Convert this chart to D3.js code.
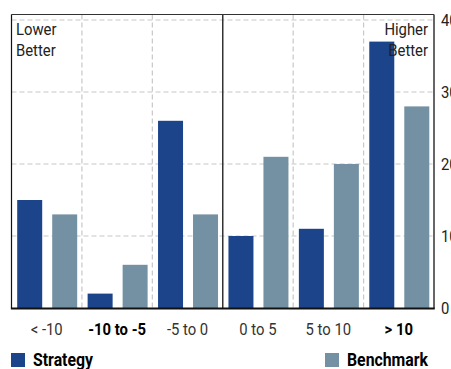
<!DOCTYPE html>
<html><head><meta charset="utf-8">
<script src="https://cdn.jsdelivr.net/npm/d3@7"></script>
<style>body{margin:0;background:#fff}svg{display:block}</style>
</head><body><svg id="c" width="451" height="369"></svg>
<script>
const categories = ["< -10", "-10 to -5", "-5 to 0", "0 to 5", "5 to 10", "> 10"];
const boldCats = ["-10 to -5", "> 10"];
const seriesNames = ["Strategy", "Benchmark"];
const strategy = [15, 2, 26, 10, 11, 37];
const benchmark = [13, 6, 13, 21, 20, 28];
const yTicks = [0, 10, 20, 30, 40];
const colors = ["#1b448b", "#7491a3"];

const font = "Roboto,'Liberation Sans',sans-serif";
const svg = d3.select("#c");
const L = 11.5, R = 434, T = 14.5, B = 308.5;
const x = d3.scaleBand().domain(categories).range([L, R]).padding(0);
const xi = d3.scaleBand().domain(seriesNames).range([5.7, 65.7]).paddingInner(0.2857).paddingOuter(0);
const y = d3.scaleLinear().domain([0, 40]).range([308, 20]);

// condensed text helper
function ctext(parent, tx, ty, str, opts) {
  const o = Object.assign({size: 16.5, sx: 0.9, anchor: "start", weight: "normal", fill: "#222"}, opts || {});
  return parent.append("g").attr("transform", `translate(${tx},${ty}) scale(${o.sx},1)`)
    .append("text").attr("text-anchor", o.anchor).attr("font-family", font).attr("font-size", o.size)
    .attr("font-weight", o.weight).attr("fill", o.fill).text(str);
}

// horizontal gridlines
svg.append("g").selectAll("line").data(yTicks.filter(d => d > 0)).join("line")
  .attr("x1", L).attr("x2", R).attr("y1", d => y(d)).attr("y2", d => y(d))
  .attr("stroke", "#c8c8c8").attr("stroke-width", 1.2).attr("stroke-dasharray", "5,3");
// vertical gridlines
svg.append("g").selectAll("line").data(categories.slice(1)).join("line")
  .attr("x1", d => x(d)).attr("x2", d => x(d)).attr("y1", T).attr("y2", B)
  .attr("stroke", d => d === "0 to 5" ? "#333" : "#c8c8c8")
  .attr("stroke-width", d => d === "0 to 5" ? 1.5 : 1.2)
  .attr("stroke-dasharray", d => d === "0 to 5" ? null : "5,3");

// bars
const data = categories.map((c, i) => ({c, vals: [strategy[i], benchmark[i]]}));
const g = svg.append("g").selectAll("g").data(data).join("g")
  .attr("transform", d => `translate(${x(d.c)},0)`);
g.selectAll("rect").data(d => d.vals.map((v, j) => ({s: seriesNames[j], v, j}))).join("rect")
  .attr("x", d => xi(d.s)).attr("width", xi.bandwidth())
  .attr("y", d => y(d.v)).attr("height", d => y(0) - y(d.v))
  .attr("fill", d => colors[d.j]);

// frame
svg.append("line").attr("x1", L).attr("x2", R).attr("y1", T).attr("y2", T).attr("stroke", "#333").attr("stroke-width", 1.2);
svg.append("line").attr("x1", L).attr("x2", L).attr("y1", T).attr("y2", B).attr("stroke", "#111").attr("stroke-width", 1.2);
svg.append("line").attr("x1", R).attr("x2", R).attr("y1", T).attr("y2", B).attr("stroke", "#333").attr("stroke-width", 1.5);
svg.append("line").attr("x1", L - 0.6).attr("x2", R + 0.75).attr("y1", B).attr("y2", B).attr("stroke", "#111").attr("stroke-width", 1.8);

// right axis
const ay = svg.append("g").attr("transform", `translate(${R},0)`)
  .call(d3.axisRight(y).tickValues(yTicks).tickSize(0).tickPadding(7).tickFormat(d3.format("d")));
ay.select(".domain").remove();
ay.selectAll("text").attr("font-family", font).attr("font-size", 16.5).attr("fill", "#222")
  .attr("transform", "scale(0.9,1)").attr("x", 7 / 0.9);

// x labels
categories.forEach(c => {
  const b = boldCats.includes(c);
  ctext(svg, x(c) + x.bandwidth() / 2, 335, c, {anchor: "middle", weight: b ? "bold" : "normal", fill: b ? "#000" : "#333"});
});

// annotations
const ann = [{lines: ["Lower", "Better"], x: 16, anchor: "start"}, {lines: ["Higher", "Better"], x: 428, anchor: "end"}];
ann.forEach(a => {
  a.lines.forEach((t, i) => ctext(svg, a.x, 35 + i * 21, t, {anchor: a.anchor}));
});

// legend
const legX = [11, 325];
seriesNames.forEach((s, i) => {
  svg.append("rect").attr("x", legX[i]).attr("y", 353).attr("width", 14).attr("height", 14).attr("fill", colors[i]);
  ctext(svg, legX[i] + 22, 366, s, {size: 18, sx: 0.88, weight: "bold", fill: "#000"});
});
</script></body></html>
